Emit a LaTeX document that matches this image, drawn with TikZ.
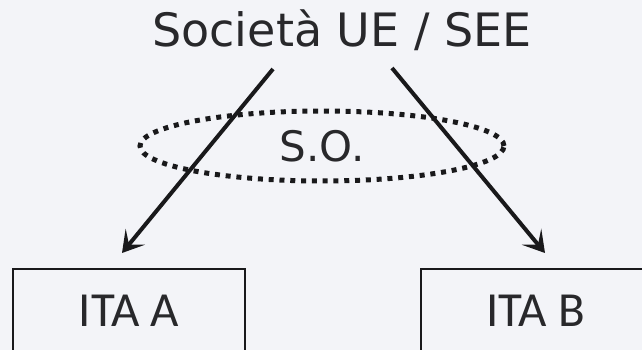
\documentclass[tikz,border=0pt]{standalone}
\usepackage{fontspec}
\setmainfont{DejaVu Sans}
\newfontfamily\itafont{Carlito}
\usetikzlibrary{arrows.meta,shapes.geometric}
\definecolor{bgc}{RGB}{243,244,248}
\definecolor{ink}{RGB}{25,25,27}
\definecolor{txt}{RGB}{40,40,43}
\tikzset{
  conn/.style={draw=ink, line width=4pt, -{Stealth[length=21pt,width=25pt,inset=10pt]}},
  itabox/.style={draw=ink, line width=2.8pt, rectangle, minimum height=84pt, inner sep=0pt, text=txt, font=\itafont\fontsize{49}{52}\selectfont},
  soellipse/.style={ellipse, draw=ink, line width=5pt, dash pattern=on 5pt off 5.8pt, minimum width=364pt, minimum height=70pt, inner sep=0pt, text=txt, font=\fontsize{42}{46}\selectfont},
  titlenode/.style={text=txt, inner sep=0pt, font=\fontsize{46}{50}\selectfont}
}
\begin{document}
\begin{tikzpicture}[x=1pt,y=-1pt]
\fill[bgc] (0,0) rectangle (642,350);
\useasboundingbox (0,0) rectangle (642,350);
\begin{scope}
\clip (0,0) rectangle (642,350);
\node[titlenode, anchor=base] (title) at (342,47) {Società UE / SEE};
\node[soellipse] (so) at (322,146) {S.O.};
\node[itabox, minimum width=232pt] (ita) at (129,311) {ITA A};
\node[itabox, minimum width=229pt] (itb) at (535.5,311) {ITA B};
\coordinate (la) at (273,69);
\coordinate (lb) at (122,253);
\coordinate (ra) at (392,68);
\coordinate (rb) at (545,253);
\draw[conn] (la) -- (lb);
\draw[conn] (ra) -- (rb);
\end{scope}
\end{tikzpicture}
\end{document}
